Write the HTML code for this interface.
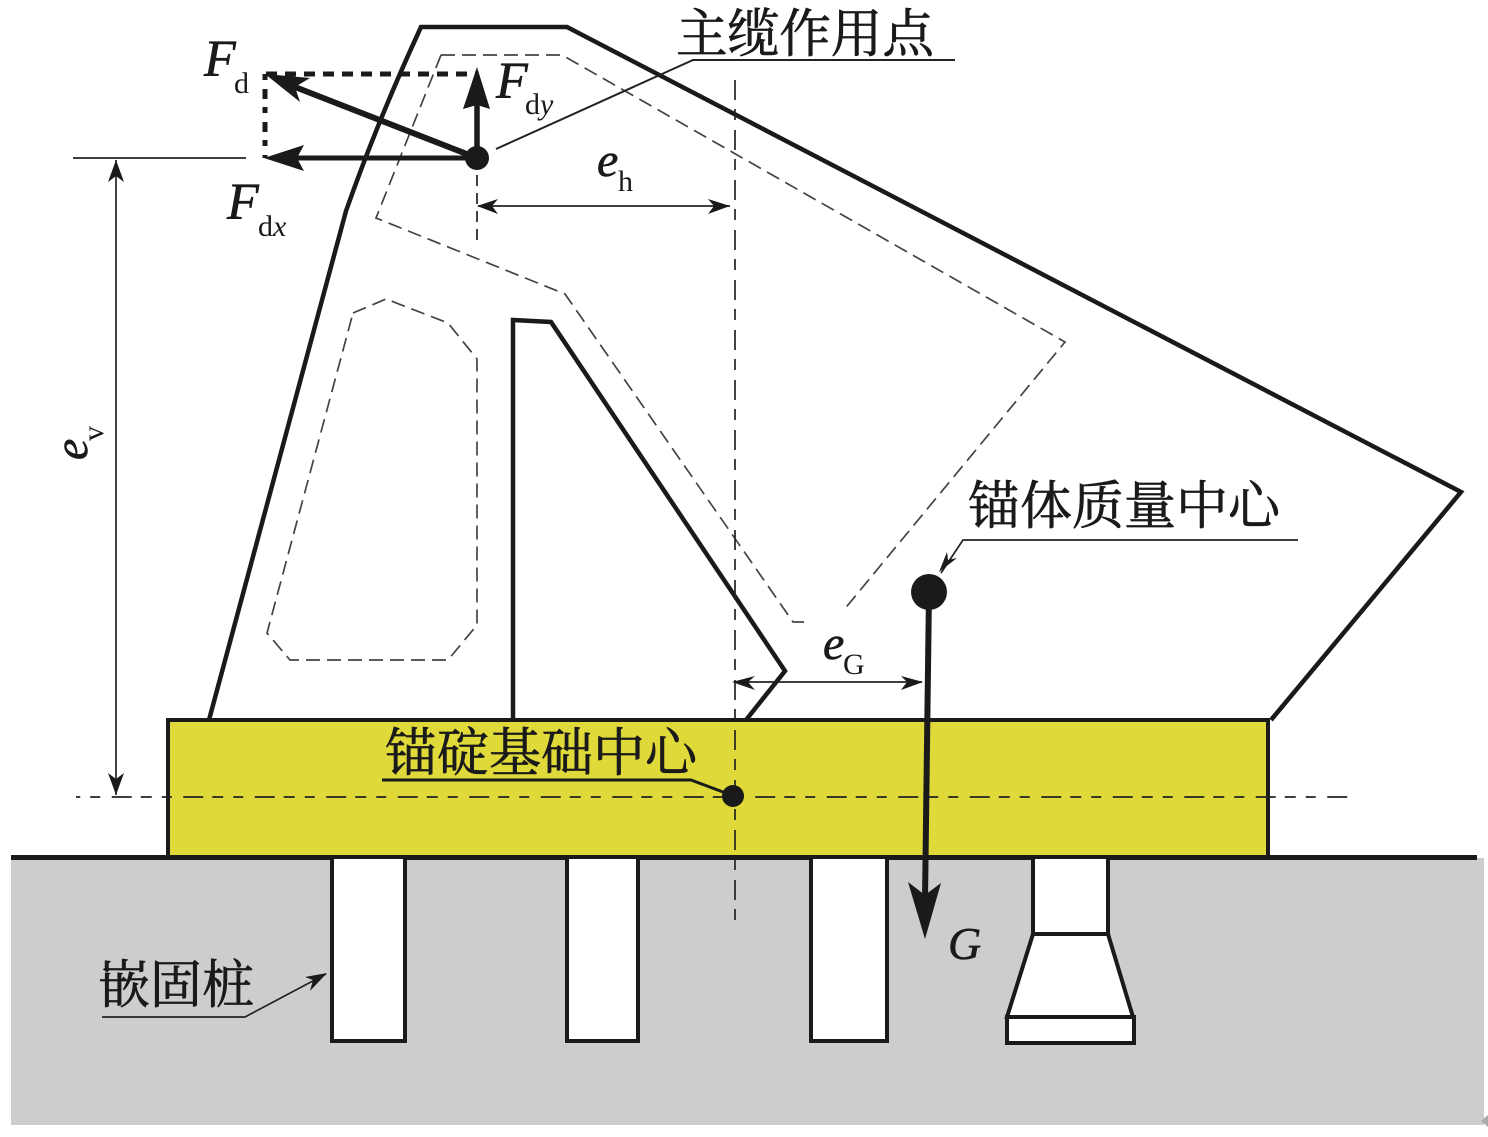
<!DOCTYPE html>
<html><head><meta charset="utf-8"><style>
html,body{margin:0;padding:0;background:#fff}
svg{display:block}
.cn{font-family:"Liberation Serif","Noto Serif CJK SC",serif;font-size:52px;fill:#1a1a1a;stroke:#1a1a1a;stroke-width:.7px}
.it{font-family:"Liberation Serif",serif;font-style:italic;fill:#1a1a1a;stroke:#1a1a1a;stroke-width:.6px}
.rm{font-family:"Liberation Serif",serif;fill:#1a1a1a}
</style></head><body>
<svg width="1488" height="1137" viewBox="0 0 1488 1137" xmlns="http://www.w3.org/2000/svg">
<rect x="11" y="858" width="1473" height="267" fill="#cccdce"/>
<path d="M1488 1115L1481 1121L1488 1127Z" fill="#aaa"/>
<rect x="168" y="720" width="1100" height="137" fill="#dfd939" stroke="#1a1a1a" stroke-width="4"/>
<path d="M11 857.500H1477" stroke="#1a1a1a" stroke-width="5" fill="none"/>
<g fill="#fff" stroke="#1a1a1a" stroke-width="4">
<path d="M332 859V1041H405V859"/>
<path d="M567 859V1041H638V859"/>
<path d="M811 859V1041H887V859"/>
<path d="M1033 859V934H1108V859"/>
<path d="M1033 934H1108L1133 1017H1007Z"/>
<rect x="1007" y="1017" width="127" height="26"/>
</g>
<!-- outline -->
<path d="M209 720L346 211Q378 120 421 27H567L1461 492L1271 720" fill="none" stroke="#1a1a1a" stroke-width="4.500"/>
<path d="M513 720V320L551 322L785 671L746 720" fill="none" stroke="#1a1a1a" stroke-width="4.500"/>
<!-- dashed inner -->
<g fill="none" stroke="#444" stroke-width="1.700" stroke-dasharray="14 7">
<path d="M441 55H562L1065 342L843 611"/>
<path d="M441 55L376 218L565 294L793 622H804"/>
<path d="M353 313L386 299L448 323L477 359V625L448 660H290L267 633Z"/>
</g>
<!-- axes -->
<g fill="none" stroke="#222" stroke-width="1.700">
<path d="M735 80V923" stroke-dasharray="20 9 11 10"/>
<path d="M76 797H1350" stroke-dasharray="20 9 11 10 10 11.500" stroke-dashoffset="35.750"/>
<path d="M477 175V240" stroke-dasharray="11 7"/>
<path d="M73 158H246"/>
<path d="M496 149L693 60H955" stroke-width="2"/>
<path d="M116 160V795"/>
<path d="M478 206H730"/>
<path d="M735 682H922"/>
<path d="M1298 540H963L941 573"/>
<path d="M102 1017H245L326 974"/>
</g>
<path d="M382 780H691L723 792" fill="none" stroke="#1a1a1a" stroke-width="3"/>
<!-- dim arrowheads -->
<g fill="#1a1a1a">
<path d="M116 160L108 182L116 176L124 182Z"/>
<path d="M116 795L108 773L116 779L124 773Z"/>
<path d="M477 206L498 199L492 206L498 214Z"/>
<path d="M730 206L708 199L714 206L708 214Z"/>
<path d="M732 682L755 676L748 682L755 690Z"/>
<path d="M923 682L901 676L907 682L901 690Z"/>
<path d="M939 572L947 552L948 560L957 558Z"/>
<path d="M327 973L305 977L313 980L310 991Z"/>
</g>
<!-- force box -->
<path d="M266 74H477" stroke="#1a1a1a" stroke-width="5" stroke-dasharray="11 8" fill="none"/>
<path d="M265 74V158" stroke="#1a1a1a" stroke-width="5" stroke-dasharray="6 9 10 8" fill="none"/>
<g stroke="#1a1a1a" fill="none">
<path d="M477 158L295 87" stroke-width="6"/>
<path d="M477 158H295" stroke-width="5"/>
<path d="M477 158V100" stroke-width="5.500"/>
<path d="M929 592L925 900" stroke-width="6"/>
</g>
<g fill="#1a1a1a">
<path d="M265 74L310 78L295 87L300 102Z"/>
<path d="M264 158L304 145L297 158L304 171Z"/>
<path d="M477 67L490 109L477 105L463 109Z"/>
<path d="M925 939L908 882L925 895L941 883Z"/>
<circle cx="477" cy="158" r="12"/>
<circle cx="929" cy="592" r="18"/>
<circle cx="733" cy="796" r="11"/>
</g>
<!-- labels -->
<text class="cn" x="676" y="52" textLength="258" lengthAdjust="spacingAndGlyphs">主缆作用点</text>
<text class="cn" x="968" y="524" textLength="312" lengthAdjust="spacingAndGlyphs">锚体质量中心</text>
<text class="cn" x="385" y="771" textLength="312" lengthAdjust="spacingAndGlyphs">锚碇基础中心</text>
<text class="cn" x="98" y="1003" textLength="156" lengthAdjust="spacingAndGlyphs">嵌固桩</text>
<text class="it" font-size="52" x="204" y="76">F</text>
<text class="rm" font-size="30" x="234" y="93">d</text>
<text class="it" font-size="52" x="496" y="98">F</text>
<text class="rm" font-size="30" x="525" y="114">d<tspan font-style="italic">y</tspan></text>
<text class="it" font-size="52" x="227" y="219">F</text>
<text class="rm" font-size="30" x="258" y="236">d<tspan font-style="italic">x</tspan></text>
<text class="it" font-size="48" x="597" y="176">e</text>
<text class="rm" font-size="30" x="618" y="191">h</text>
<text class="it" font-size="48" x="823" y="659">e</text>
<text class="rm" font-size="30" x="843" y="674">G</text>
<text class="it" font-size="46" x="948" y="959">G</text>
<text class="it" font-size="48" transform="translate(87 460) rotate(-90)">e</text>
<text class="rm" font-size="30" transform="translate(103 441) rotate(-90)">v</text>
</svg>
</body></html>
